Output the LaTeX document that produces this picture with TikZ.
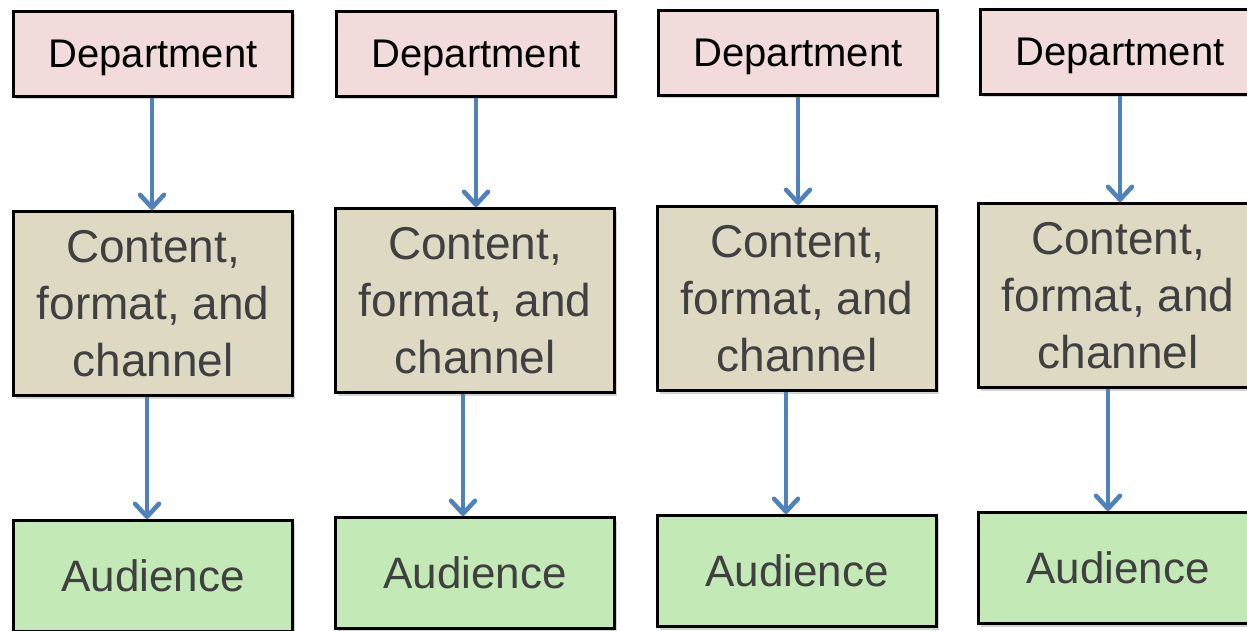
\documentclass[tikz,border=0pt]{standalone}
\usepackage{fontspec}
\setmainfont{Liberation Sans}
\usetikzlibrary{arrows.meta,shadows}

\definecolor{deptfill}{HTML}{F2DCDB}
\definecolor{contfill}{HTML}{DDD9C3}
\definecolor{audfill}{HTML}{C3E9B7}
\definecolor{flowblue}{HTML}{4F81BD}
\definecolor{bodytext}{HTML}{404040}

\tikzset{
  box/.style={draw=black, line width=3pt, inner sep=0pt, minimum width=279pt,
    anchor=north west,
    drop shadow={shadow xshift=2.5pt, shadow yshift=-3pt, opacity=0.28, fill=black!60}},
  dept/.style={box, fill=deptfill, minimum height=85pt, text=black, text depth=0pt,
    font=\fontsize{40}{48}\selectfont},
  cont/.style={box, fill=contfill, minimum height=184pt, text=bodytext, align=center,
    font=\fontsize{46}{57}\selectfont},
  aud/.style={box, fill=audfill, minimum height=111pt, text=bodytext,
    font=\fontsize{44}{54}\selectfont},
  flow/.style={draw=flowblue, line width=4.5pt,
    -{Straight Barb[length=13pt, width=24pt, round]}}
}

\begin{document}
\begin{tikzpicture}[x=1pt, y=1pt]
\clip (0,0) rectangle (1247,-631);
\fill[white] (0,0) rectangle (1247,-631);

% column 1
\node[dept] (d1) at (12,-10)  {Department};
\node[cont] (c1) at (12,-210) {Content,\\format, and\\channel};
\node[aud]  (a1) at (12,-519) {Audience};

% column 2
\node[dept] (d2) at (335,-10) {Department};
\node[cont] (c2) at (334,-207) {Content,\\format, and\\channel};
\node[aud]  (a2) at (334,-516) {Audience};

% column 3
\node[dept] (d3) at (657,-9)  {Department};
\node[cont] (c3) at (656,-205) {Content,\\format, and\\channel};
\node[aud]  (a3) at (656,-514) {Audience};

% column 4
\node[dept] (d4) at (979,-8)  {Department};
\node[cont] (c4) at (977,-202) {Content,\\format, and\\channel};
\node[aud]  (a4) at (977,-511) {Audience};

% connectors
\draw[flow] ([xshift=-1pt]d1.south)  -- ([xshift=-1pt]c1.north);
\draw[flow] ([xshift=-6pt]c1.south)  -- ([xshift=-6pt]a1.north);
\draw[flow] ([xshift=0pt]d2.south)   -- ([xshift=1pt]c2.north);
\draw[flow] ([xshift=-12pt]c2.south) -- ([xshift=-12pt]a2.north);
\draw[flow] ([xshift=0pt]d3.south)   -- ([xshift=1pt]c3.north);
\draw[flow] ([xshift=-11pt]c3.south) -- ([xshift=-11pt]a3.north);
\draw[flow] ([xshift=0pt]d4.south)   -- ([xshift=2pt]c4.north);
\draw[flow] ([xshift=-10pt]c4.south) -- ([xshift=-10pt]a4.north);
\end{tikzpicture}
\end{document}
